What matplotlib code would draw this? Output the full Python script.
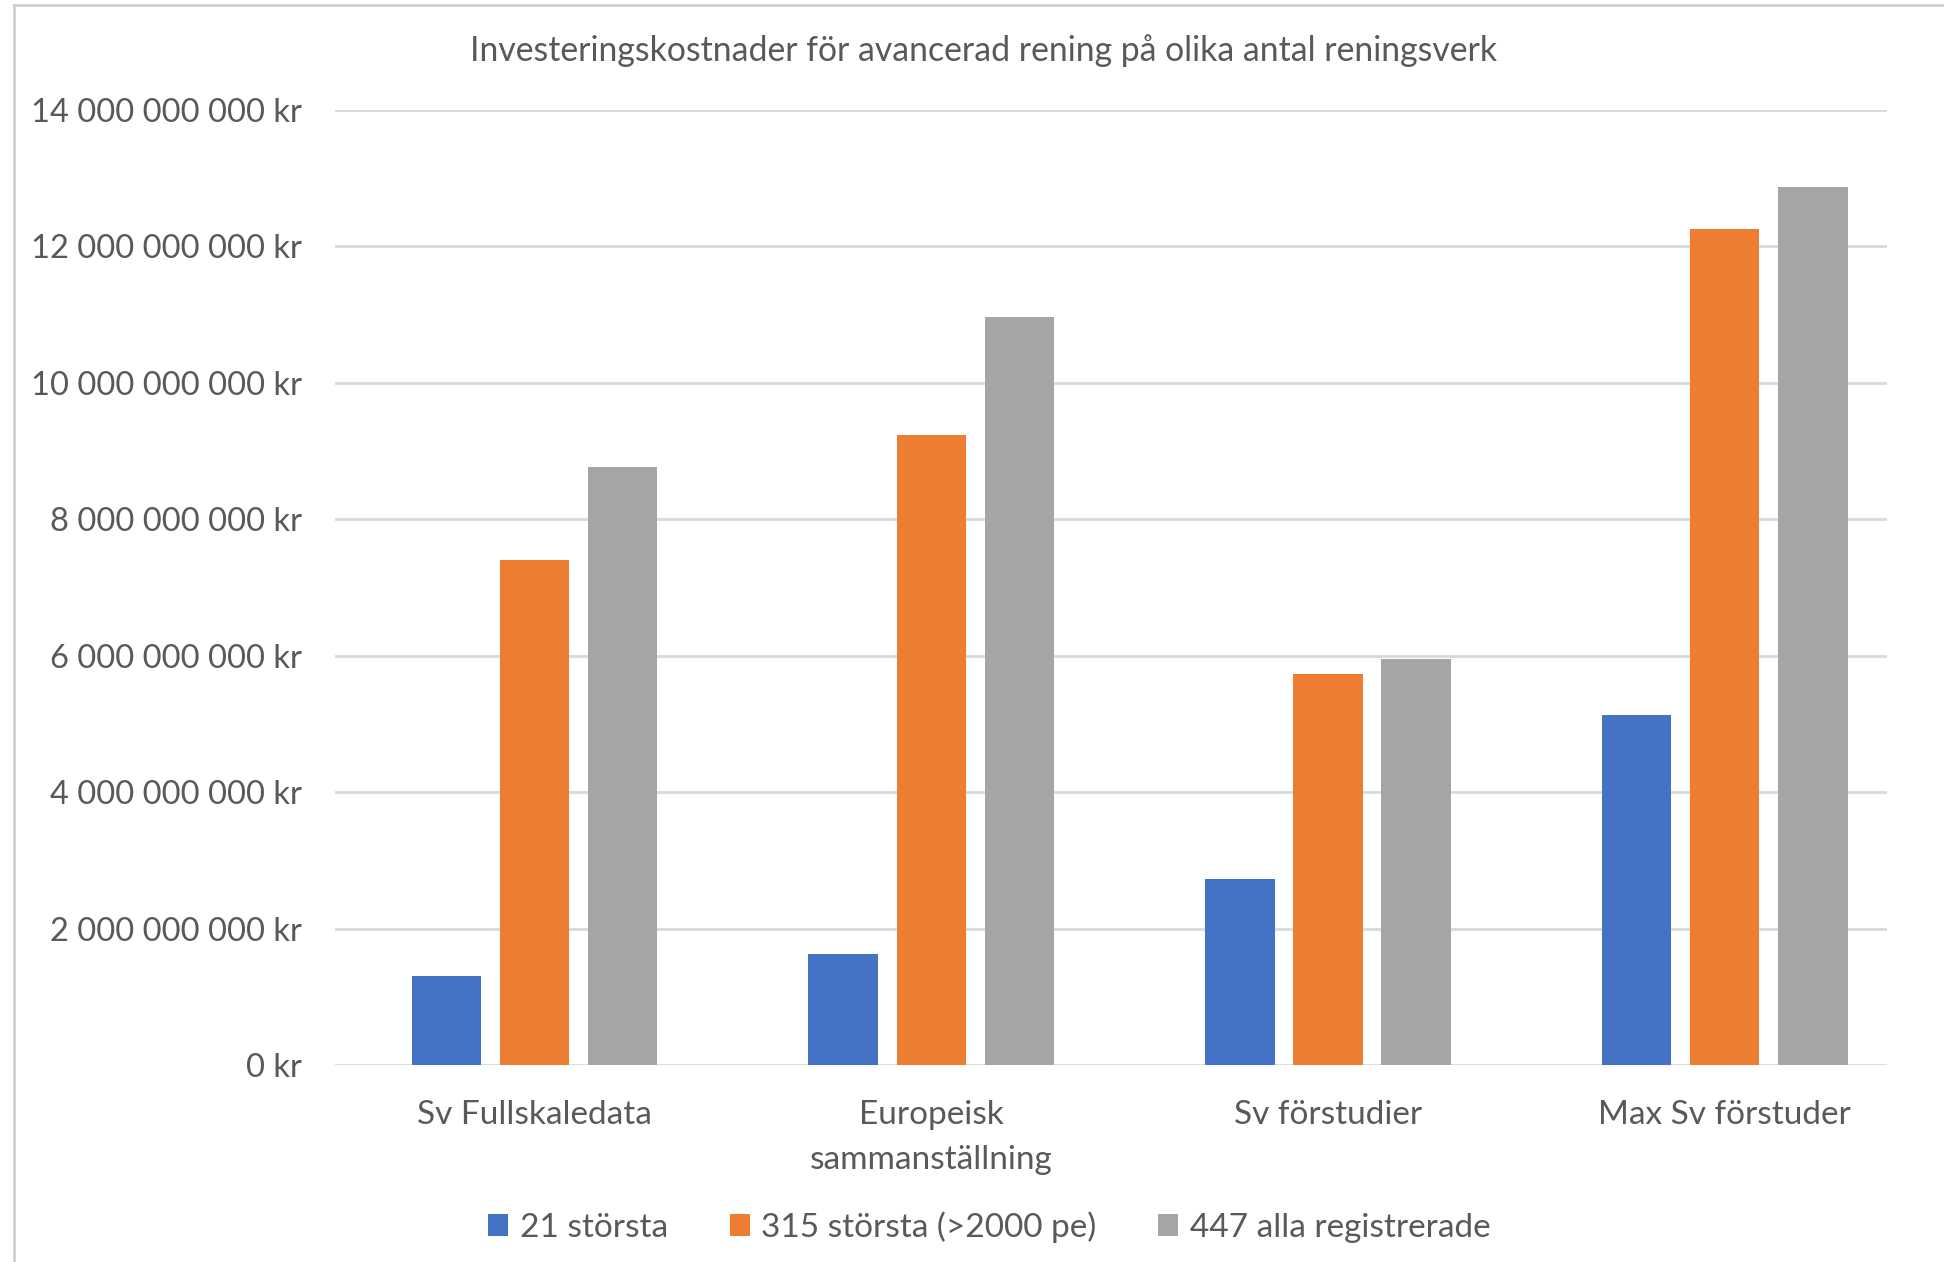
import numpy as np
import matplotlib.pyplot as plt
from matplotlib.ticker import FuncFormatter
from matplotlib.lines import Line2D

# Data (kr)
categories = ["Sv Fullskaledata", "Europeisk\nsammanställning", "Sv förstudier", "Max Sv förstuder"]
series_names = ["21 största", "315 största (>2000 pe)", "447 alla registrerade"]
storsta_21 = [1.31e9, 1.62e9, 2.73e9, 5.13e9]
storsta_315 = [7.40e9, 9.24e9, 5.73e9, 12.25e9]
alla_447 = [8.76e9, 10.96e9, 5.95e9, 12.87e9]

colors = ["#4472C4", "#ED7D31", "#A5A5A5"]
text_col = "#595959"

plt.rcParams['font.family'] = ['Lato', 'DejaVu Sans']

fig = plt.figure(figsize=(19.44, 12.62), dpi=100)
ax = fig.add_axes([0.1723, 0.1561, 0.7984, 0.7567])

x = np.arange(len(categories))
width = 0.175
step = 0.222
for i, (vals, name) in enumerate(zip([storsta_21, storsta_315, alla_447], series_names)):
    ax.bar(x + (i - 1) * step, vals, width, color=colors[i], label=name, zorder=3)

# gridlines stop a bit short of the last category slot, like in the original
ax.set_xlim(-0.503, 3.409)
ax.set_ylim(0, 14e9)
ax.set_yticks(np.arange(0, 14e9 + 1, 2e9))

def kr(v, pos):
    return "{:,.0f} kr".format(v).replace(",", " ")

ax.yaxis.set_major_formatter(FuncFormatter(kr))
ax.set_xticks(x)
ax.set_xticklabels(categories, linespacing=1.6)

ax.grid(axis='y', color="#D9D9D9", linewidth=2, zorder=0)
for s in ax.spines.values():
    s.set_visible(False)
ax.tick_params(axis='y', length=0, pad=24, labelsize=23.5, labelcolor=text_col)
ax.tick_params(axis='x', length=0, pad=25.5, labelsize=24, labelcolor=text_col)

fig.text(0.5057, 1 - 51 / 1262, "Investeringskostnader för avancerad rening på olika antal reningsverk",
         ha='center', va='center', fontsize=24.3, color=text_col)

fig.legend(loc='center', bbox_to_anchor=(0.509, 1 - 1227 / 1262), ncol=3, frameon=False,
           fontsize=24, labelcolor=text_col, handlelength=0.6, handleheight=0.6,
           handletextpad=0.35, columnspacing=1.85)

# chart border (cropped screenshot)
fig.add_artist(Line2D([14 / 1944, 1], [1 - 5 / 1262, 1 - 5 / 1262], color="#D0D0D0", lw=2))
fig.add_artist(Line2D([14 / 1944, 14 / 1944], [0, 1 - 5 / 1262], color="#D0D0D0", lw=2))

plt.savefig("out.png", dpi=100)
